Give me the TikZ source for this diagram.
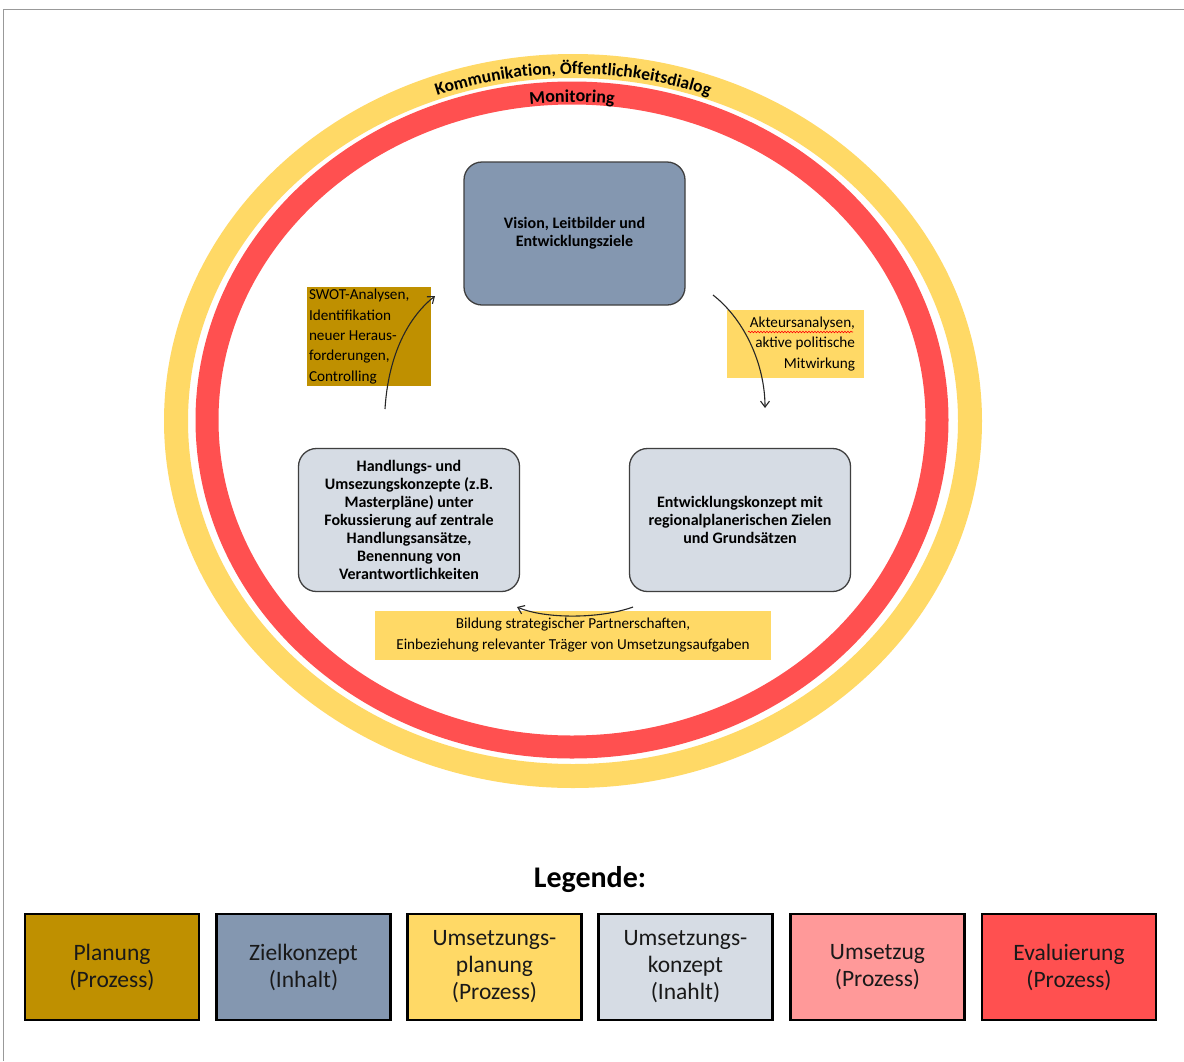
\documentclass[tikz,border=0pt]{standalone}
\usepackage{fontspec}
\setmainfont{Carlito}
\usetikzlibrary{arrows.meta,decorations.text,decorations.pathmorphing}

\definecolor{planung}{HTML}{BF9000}
\definecolor{ziel}{HTML}{8497B0}
\definecolor{umplan}{HTML}{FFD966}
\definecolor{umkonz}{HTML}{D6DCE4}
\definecolor{umsetz}{HTML}{FF9999}
\definecolor{evalu}{HTML}{FF5050}
\definecolor{boxline}{HTML}{3F3F3F}

\tikzset{
  content/.style={draw=boxline, line width=1.3pt, rounded corners=18pt,
    minimum width=221pt, minimum height=143pt, align=center, inner sep=2pt,
    font=\fontsize{16}{18}\selectfont\bfseries},
  note/.style={inner sep=0pt, font=\fontsize{15.2}{20.4}\selectfont,
    execute at begin node={\spaceskip=\fontdimen2\font\relax}},
  flow/.style={-{Straight Barb[length=6pt,width=9pt]}, line width=1.1pt, black!85},
  legendbox/.style={draw=black, line width=2.4pt, minimum width=174pt,
    minimum height=106pt, align=center, inner sep=0pt,
    font=\fontsize{23.5}{27}\selectfont, text=black!90}
}

\begin{document}
\begin{tikzpicture}[x=1pt,y=-1pt]
\useasboundingbox (0,0) rectangle (1184,1061);
\fill[white] (0,0) rectangle (1184,1061);

% page frame (top and left edge)
\draw[black!40, line width=1pt] (3,1061) -- (3,9) -- (1184,9);

% outer rings
\draw[umplan, line width=24pt] (573,421) ellipse [x radius=397, y radius=355];
\draw[evalu, line width=23pt] (572,420) ellipse [x radius=365, y radius=327];

% ring labels
\path[decorate, decoration={text along path, text align=center,
  text={|\fontsize{17.5}{17.5}\selectfont\bfseries|Kommunikation, Öffentlichkeitsdialog}}]
  (184,421) arc[start angle=180, end angle=360, x radius=389, y radius=347];
\path[decorate, decoration={text along path, text align=center,
  text={|\fontsize{18}{18}\selectfont\bfseries|Monitoring}}]
  (214,420) arc[start angle=180, end angle=360, x radius=358, y radius=318];

% content boxes
\node[content, fill=ziel] (vision) at (574.5,233.5)
  {Vision, Leitbilder und\\Entwicklungsziele};
\node[content, fill=umkonz] (handlung) at (409,520)
  {Handlungs- und\\Umsezungskonzepte (z.B.\\Masterpläne) unter\\Fokussierung auf zentrale\\Handlungsansätze,\\Benennung von\\Verantwortlichkeiten};
\node[content, fill=umkonz] (entwicklung) at (740,520)
  {Entwicklungskonzept mit\\regionalplanerischen Zielen\\und Grundsätzen};

% process notes
\node[note, fill=planung, minimum width=124pt, minimum height=99pt,
  text width=120pt, align=left] (swot) at (369,336.5)
  {SWOT-Analysen,\\Identifikation\\neuer Heraus-\\forderungen,\\Controlling};
\node[note, fill=umplan, minimum width=137pt, minimum height=68pt,
  text width=119pt, align=right] (akteur) at (795.5,344)
  {Akteursanalysen,\\aktive politische\\Mitwirkung};
\node[note, fill=umplan, minimum width=396pt, minimum height=49pt,
  align=center] (bildung) at (573,635)
  {Bildung strategischer Partnerschaften,\\Einbeziehung relevanter Träger von Umsetzungsaufgaben};

% spell-check underline
\coordinate (wl) at (748,332);
\coordinate (wr) at (853,332);
\draw[red, line width=0.6pt, decorate,
  decoration={snake, amplitude=0.8pt, segment length=3pt}] (wl) -- (wr);

% cycle arrows
\coordinate (a1s) at (385,409);
\coordinate (a1e) at (435,296);
\draw[flow] (a1s) .. controls (388,360) and (405,320) .. (a1e);
\coordinate (a2s) at (713,295);
\coordinate (a2e) at (765,408);
\draw[flow] (a2s) .. controls (745,320) and (765,365) .. (a2e);
\coordinate (a3s) at (633,607);
\coordinate (a3e) at (517,607);
\draw[flow] (a3s) .. controls (600,619) and (545,619) .. (a3e);

% legend
\node[font=\fontsize{30}{30}\selectfont\bfseries] (legtitle) at (590,880) {Legende:};
\node[legendbox, fill=planung] (l1) at (112,967) {Planung\\(Prozess)};
\node[legendbox, fill=ziel] (l2) at (303.5,967) {Zielkonzept\\(Inhalt)};
\node[legendbox, fill=umplan] (l3) at (494.5,967) {Umsetzungs-\\planung\\(Prozess)};
\node[legendbox, fill=umkonz] (l4) at (685.5,967) {Umsetzungs-\\konzept\\(Inahlt)};
\node[legendbox, fill=umsetz] (l5) at (877.5,967) {Umsetzug\\(Prozess)};
\node[legendbox, fill=evalu] (l6) at (1069,967) {Evaluierung\\(Prozess)};
\end{tikzpicture}
\end{document}
